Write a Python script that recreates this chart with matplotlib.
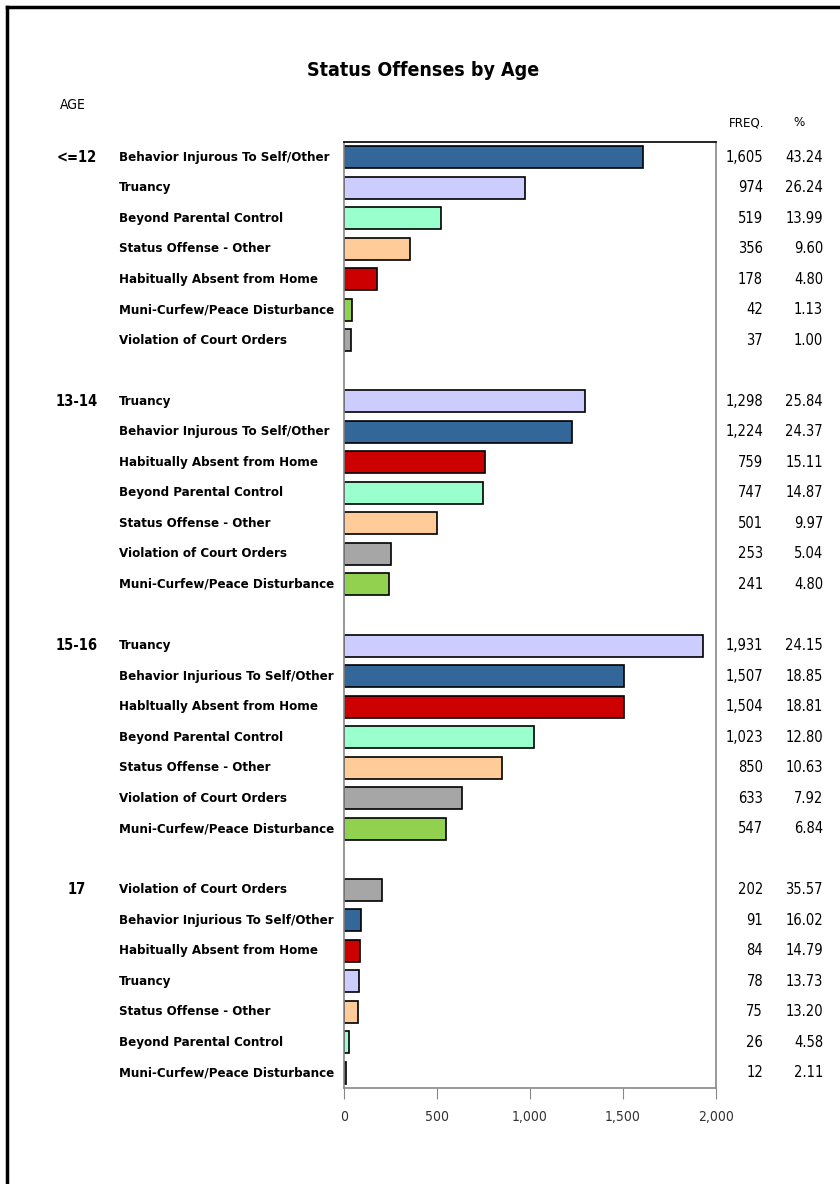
import matplotlib
matplotlib.use("Agg")
import matplotlib.pyplot as plt
import matplotlib.transforms as mtransforms
from matplotlib.lines import Line2D

# data------------------------------------------------------------------------#
ages = ['<=12', '13-14', '15-16', '17']

labels_12 = ['Behavior Injurous To Self/Other', 'Truancy', 'Beyond Parental Control',
             'Status Offense - Other', 'Habitually Absent from Home',
             'Muni-Curfew/Peace Disturbance', 'Violation of Court Orders']
freq_12 = [1605, 974, 519, 356, 178, 42, 37]
pct_12 = ['43.24', '26.24', '13.99', '9.60', '4.80', '1.13', '1.00']

labels_14 = ['Truancy', 'Behavior Injurous To Self/Other', 'Habitually Absent from Home',
             'Beyond Parental Control', 'Status Offense - Other',
             'Violation of Court Orders', 'Muni-Curfew/Peace Disturbance']
freq_14 = [1298, 1224, 759, 747, 501, 253, 241]
pct_14 = ['25.84', '24.37', '15.11', '14.87', '9.97', '5.04', '4.80']

labels_16 = ['Truancy', 'Behavior Injurious To Self/Other', 'Habltually Absent from Home',
             'Beyond Parental Control', 'Status Offense - Other',
             'Violation of Court Orders', 'Muni-Curfew/Peace Disturbance']
freq_16 = [1931, 1507, 1504, 1023, 850, 633, 547]
pct_16 = ['24.15', '18.85', '18.81', '12.80', '10.63', '7.92', '6.84']

labels_17 = ['Violation of Court Orders', 'Behavior Injurious To Self/Other',
             'Habitually Absent from Home', 'Truancy', 'Status Offense - Other',
             'Beyond Parental Control', 'Muni-Curfew/Peace Disturbance']
freq_17 = [202, 91, 84, 78, 75, 26, 12]
pct_17 = ['35.57', '16.02', '14.79', '13.73', '13.20', '4.58', '2.11']

xticks = [0, 500, 1000, 1500, 2000]
xticklabels = ['0', '500', '1,000', '1,500', '2,000']

# styles----------------------------------------------------------------------#
colors = {'Behavior': '#336699', 'Truancy': '#CCCCFF', 'Beyond': '#99FFCC',
          'Status': '#FFCC99', 'Habitually': '#CC0000', 'Habltually': '#CC0000',
          'Muni-Curfew/Peace': '#92D050', 'Violation': '#A6A6A6'}
plt.rcParams['font.family'] = ['DejaVu Sans']
plt.rcParams['font.stretch'] = 'condensed'
txt = dict(fontstretch='condensed', color='black')

W, H = 840, 1184
fig = plt.figure(figsize=(W / 100, H / 100), dpi=100)
ax = fig.add_axes([344 / W, 1 - 1088 / H, (716 - 344) / W, (1088 - 142) / H])

groups = [(labels_12, freq_12, pct_12), (labels_14, freq_14, pct_14),
          (labels_16, freq_16, pct_16), (labels_17, freq_17, pct_17)]

tr = mtransforms.blended_transform_factory(fig.transFigure, ax.transData)
pos = 0
for age, (labs, fr, pc) in zip(ages, groups):
    ys = list(range(pos, pos + len(labs)))
    ax.barh(ys, fr, height=0.72, color=[colors[l.split()[0]] for l in labs],
            edgecolor='black', linewidth=1.2)
    ax.text(77 / W, ys[0], age, transform=tr, ha='center', va='center',
            fontsize=10.5, fontweight='bold', **txt)
    for y, l, f, p in zip(ys, labs, fr, pc):
        ax.text(119 / W, y, l, transform=tr, ha='left', va='center',
                fontsize=9.5, fontweight='bold', **txt)
        ax.text(763 / W, y, f'{f:,}', transform=tr, ha='right', va='center',
                fontsize=10.5, **txt)
        ax.text(823 / W, y, p, transform=tr, ha='right', va='center',
                fontsize=10.5, **txt)
    pos += len(labs) + 1

ax.set_ylim(pos - 1 - 0.5, -0.5)
ax.set_xlim(0, 2000)
ax.set_yticks([])
ax.set_xticks(xticks)
ax.set_xticklabels(xticklabels, fontsize=10, color='#333333', fontstretch='condensed')
ax.tick_params(axis='x', direction='out', length=8, color='#888888', pad=8)
for s in ['left', 'bottom', 'right']:
    ax.spines[s].set_color('#888888')
    ax.spines[s].set_linewidth(1.2)
ax.spines['top'].set_color('black')
ax.spines['top'].set_linewidth(1.2)

# headers
fig.text(423 / W, 1 - 70 / H, 'Status Offenses by Age', ha='center', va='center',
         fontsize=14, fontweight='bold', **txt)
fig.text(60 / W, 1 - 105 / H, 'AGE', ha='left', va='center', fontsize=10, **txt)
fig.text(747 / W, 1 - 123 / H, 'FREQ.', ha='center', va='center', fontsize=9.5, **txt)
fig.text(799 / W, 1 - 123 / H, '%', ha='center', va='center', fontsize=9.5, **txt)

# outer border (left and top only visible)
fig.add_artist(Line2D([7 / W, 7 / W], [0, 1 - 7 / H], transform=fig.transFigure,
                      color='black', linewidth=2.5))
fig.add_artist(Line2D([7 / W, 1], [1 - 7 / H, 1 - 7 / H], transform=fig.transFigure,
                      color='black', linewidth=2.5))

fig.savefig('out.png', dpi=100)
